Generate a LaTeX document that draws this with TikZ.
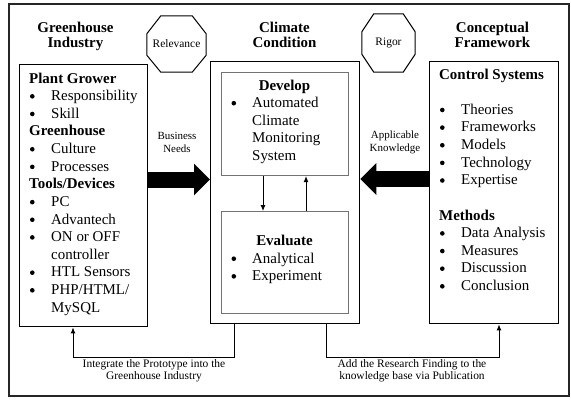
\documentclass[tikz,border=0pt]{standalone}
\usepackage{fontspec}
\setmainfont{Liberation Serif}
\usetikzlibrary{calc,arrows.meta}

% text sizes (1 unit = 1bp)
\newcommand\bodysize{\fontsize{15}{17.7}\selectfont}
\newcommand\headsize{\fontsize{15}{16}\selectfont\bfseries}
\newcommand\tagsize{\fontsize{11}{14}\selectfont}
\newcommand\notesize{\fontsize{11.5}{12.6}\selectfont}
% list bullet: a small filled disc sitting about mid x-height
\newcommand\blt{\hspace*{0.8bp}\tikz[baseline={(0bp,-4.3bp)}]\fill[black] (2.4bp,0bp) circle[radius=2.3bp];}
\newcommand\hd[1]{\multicolumn{2}{@{}l@{}}{\bfseries #1}}

\tikzset{
  frame/.style={draw=black!85, line width=1.3bp},
  panel/.style={draw=black, line width=1.4bp, inner sep=0, anchor=north west},
  subpanel/.style={draw=black!55, line width=1.1bp, inner sep=0, anchor=north west},
  listtext/.style={anchor=base west, inner sep=0, font=\bodysize},
  heading/.style={anchor=base, inner sep=0, font=\headsize},
  tag/.style={anchor=base, inner sep=0, font=\tagsize},
  note/.style={anchor=base, inner sep=0, font=\notesize},
  octo/.style={draw=black, line width=1bp},
  link/.style={draw=black, line width=0.9bp, -{Latex[length=6bp,width=5bp]}},
  bigarrow/.style={draw=black, line width=16bp, -{Triangle[length=16bp,width=31bp]}},
}

\begin{document}
\begin{tikzpicture}[x=1bp, y=-1bp]
\useasboundingbox (0,0) rectangle (571,399);

% outer frame
\draw[frame] (9,4) rectangle (569,396);

% three main panels
\node[panel, minimum width=128bp, minimum height=262bp] (gh) at (19,64) {};
\node[panel, minimum width=149bp, minimum height=262bp] (cc) at (210,61) {};
\node[panel, minimum width=129bp, minimum height=262bp] (cf) at (429,61) {};

% inner stages of the climate condition panel
\node[subpanel, minimum width=127bp, minimum height=103bp] (dv) at (221,72) {};
\node[subpanel, minimum width=127bp, minimum height=102bp] (ev) at (221,211) {};

% column headings
\node[heading] (ghT) at (75.5,32) {\begin{tabular}[t]{@{}c@{}}Greenhouse\\Industry\end{tabular}};
\node[heading] (ccT) at (284.5,32) {\begin{tabular}[t]{@{}c@{}}Climate\\Condition\end{tabular}};
\node[heading] (cfT) at (492.5,32) {\begin{tabular}[t]{@{}c@{}}Conceptual\\Framework\end{tabular}};

% octagon badges
\node[inner sep=0, minimum width=59bp, minimum height=56bp, font=\fontsize{11.5}{13}\selectfont] (rel) at (176.5,44) {Relevance};
\draw[octo] ($(rel.north west)+(14,0)$) -- ($(rel.north east)+(-14,0)$)
  -- ($(rel.north east)+(0,18)$) -- ($(rel.south east)+(0,-17)$)
  -- ($(rel.south east)+(-14,0)$) -- ($(rel.south west)+(14,0)$)
  -- ($(rel.south west)+(0,-17)$) -- ($(rel.north west)+(0,18)$) -- cycle;
\node[inner sep=0, minimum width=53bp, minimum height=58bp, font=\fontsize{11.5}{13}\selectfont] (rig) at (388.5,43) {Rigor};
\draw[octo] ($(rig.north west)+(12,0)$) -- ($(rig.north east)+(-12,0)$)
  -- ($(rig.north east)+(0,18)$) -- ($(rig.south east)+(0,-18)$)
  -- ($(rig.south east)+(-12,0)$) -- ($(rig.south west)+(12,0)$)
  -- ($(rig.south west)+(0,-18)$) -- ($(rig.north west)+(0,18)$) -- cycle;

% greenhouse industry list
\node[listtext] (ghL) at (29,83) {\begin{tabular}[t]{@{}p{22bp}@{}l@{}}
\hd{Plant Grower}\\
\blt & Responsibility\\
\blt & Skill\\
\hd{Greenhouse}\\
\blt & Culture\\
\blt & Processes\\
\hd{Tools/Devices}\\
\blt & PC\\
\blt & Advantech\\
\blt & ON or OFF\\
     & controller\\
\blt & HTL Sensors\\
\blt & PHP/HTML/\\
     & MySQL
\end{tabular}};

% conceptual framework list
\node[listtext] (cfL) at (439,79) {\begin{tabular}[t]{@{}p{22bp}@{}l@{}}
\hd{Control Systems}\\
 & \\
\blt & Theories\\
\blt & Frameworks\\
\blt & Models\\
\blt & Technology\\
\blt & Expertise\\
 & \\
\hd{Methods}\\
\blt & Data Analysis\\
\blt & Measures\\
\blt & Discussion\\
\blt & Conclusion
\end{tabular}};

% develop stage
\node[heading] (dvT) at (284.5,90) {Develop};
\node[listtext] (dvL) at (230.5,107.5) {\begin{tabular}[t]{@{}p{21.5bp}@{}l@{}}
\blt & Automated\\
     & Climate\\
     & Monitoring\\
     & System
\end{tabular}};

% evaluate stage
\node[heading] (evT) at (284.5,245) {Evaluate};
\node[listtext] (evL) at (230.5,263) {\begin{tabular}[t]{@{}p{21.5bp}@{}l@{}}
\blt & Analytical\\
\blt & Experiment
\end{tabular}};

% flow labels beside the block arrows
\node[tag] (bn) at (177,139) {\begin{tabular}[t]{@{}c@{}}Business\\Needs\end{tabular}};
\node[tag] (ak) at (395,138) {\begin{tabular}[t]{@{}c@{}}Applicable\\Knowledge\end{tabular}};

% block arrows into the climate condition panel
\coordinate (bnTail) at (147,179.5);
\coordinate (akTail) at (429,179);
\draw[bigarrow] (bnTail) -- (cc.west |- bnTail);
\draw[bigarrow] (akTail) -- (cc.east |- akTail);

% develop <-> evaluate cycle
\coordinate (dnX) at (263,0);
\coordinate (upX) at (306,0);
\draw[link] (dv.south -| dnX) -- (ev.north -| dnX);
\draw[link] (ev.north -| upX) -- (dv.south -| upX);

% feedback to industry and to the knowledge base
\coordinate (iR) at (234,357);
\coordinate (iL) at (73,357);
\draw[link] (cc.south -| iR) -- (iR) -- (iL) -- (gh.south -| iL);
\coordinate (kL) at (326,357);
\coordinate (kR) at (499,357);
\draw[link] (cc.south -| kL) -- (kL) -- (kR) -- (cf.south -| kR);

\node[note] (intg) at (154,367) {\begin{tabular}[t]{@{}c@{}}Integrate the Prototype into the\\Greenhouse Industry\end{tabular}};
\node[note] (addk) at (412,367) {\begin{tabular}[t]{@{}c@{}}Add the Research Finding to the\\knowledge base via Publication\end{tabular}};

\end{tikzpicture}
\end{document}
